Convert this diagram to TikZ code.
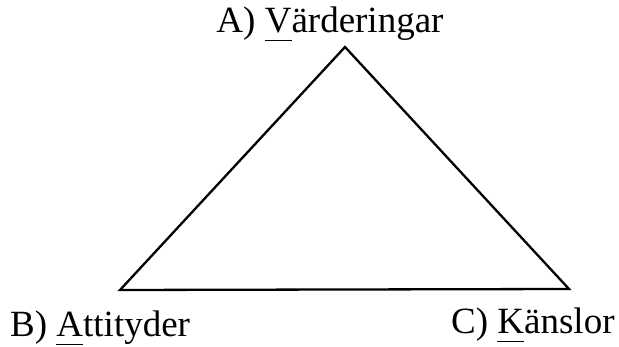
\documentclass[tikz,border=0pt]{standalone}
\usepackage{fontspec}
\setmainfont{Liberation Serif}
\usepackage{tikz}
\usetikzlibrary{positioning}

\newsavebox{\ulbox}
\newcommand{\ulletter}[1]{\sbox{\ulbox}{#1}\rlap{\rule[-8.5pt]{\wd\ulbox}{1.5pt}}\usebox{\ulbox}}

\begin{document}
\begin{tikzpicture}[
    x=1pt, y=-1pt,
    every node/.style={font=\fontsize{37}{44}\selectfont, inner sep=0pt} % big serif labels
]
    \useasboundingbox (0,0) rectangle (619,347);

    % corners of the triangle
    \coordinate (v) at (345,47);
    \coordinate (a) at (120,290);
    \coordinate (k) at (569,289);

    % the triangle
    \draw [line width=2.3pt] (v) -- (a) -- (k) -- cycle;

    % labels at the corners
    \node (lv) [anchor=base] at (330,33) {A) \ulletter{V}ärderingar};
    \node (la) [anchor=base west] at (10,337) {B) \ulletter{A}ttityder};
    \node (lk) [anchor=base west] at (451,334) {C) \ulletter{K}änslor};
\end{tikzpicture}
\end{document}
